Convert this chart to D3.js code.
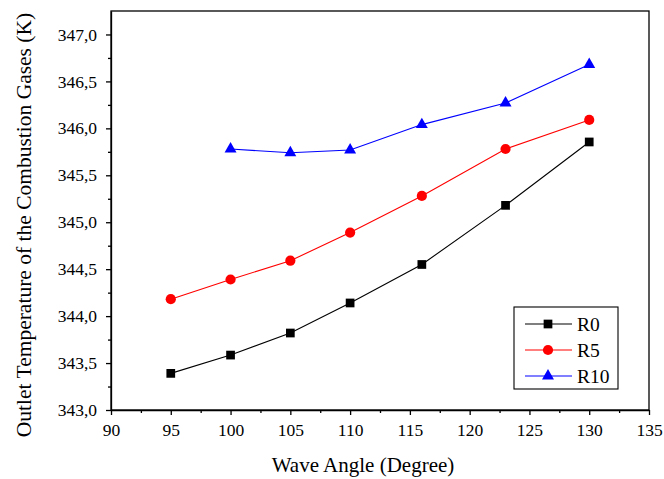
<!DOCTYPE html>
<html><head><meta charset="utf-8">
<script src="https://cdn.jsdelivr.net/npm/d3@7"></script>
<style>
body{margin:0;background:#fff;}
svg{display:block;}
svg text{font-family:"Liberation Serif","Times New Roman",serif !important;fill:#000;}
</style></head>
<body><svg id="c" width="664" height="479"></svg>
<script>
const angles = [95, 100, 105, 110, 116, 123, 130];
const r0 = [343.39, 343.585, 343.82, 344.14, 344.55, 345.18, 345.855];
const r5 = [344.18, 344.39, 344.59, 344.89, 345.28, 345.78, 346.09];
const r10 = [null, 345.78, 345.74, 345.77, 346.04, 346.27, 346.68];
const seriesNames = ["R0", "R5", "R10"];
const xTicks = [90, 95, 100, 105, 110, 115, 120, 125, 130, 135];
const yTicks = [343.0, 343.5, 344.0, 344.5, 345.0, 345.5, 346.0, 346.5, 347.0];

const svg = d3.select("#c");
const L = 111, R = 649, T = 11, B = 410;
const x = d3.scaleLinear().domain([90, 135]).range([L, R]);
const y = d3.scaleLinear().domain([343, 347.25]).range([B, T]);
const fmt = d => d3.format(".1f")(d).replace(".", ",");

// frame
svg.append("rect").attr("x", L).attr("y", T).attr("width", R - L).attr("height", B - T)
  .attr("fill", "none").attr("stroke", "#000").attr("stroke-width", 1.3);

// x axis
svg.append("g").attr("transform", `translate(0,${B})`)
  .call(d3.axisBottom(x).tickValues(xTicks).tickSize(5).tickSizeOuter(0).tickPadding(9));
svg.append("g").attr("transform", `translate(0,${B})`)
  .call(d3.axisBottom(x).tickValues(d3.range(92.5, 135, 5)).tickSize(3).tickFormat("").tickSizeOuter(0))
  .call(g => g.select(".domain").remove());
// y axis
svg.append("g").attr("transform", `translate(${L},0)`)
  .call(d3.axisLeft(y).tickValues(yTicks).tickFormat(fmt).tickSize(5).tickSizeOuter(0).tickPadding(9));
svg.append("g").attr("transform", `translate(${L},0)`)
  .call(d3.axisLeft(y).tickValues(d3.range(343.25, 347.25, 0.5)).tickSize(3).tickFormat("").tickSizeOuter(0))
  .call(g => g.select(".domain").remove());
svg.selectAll("g").attr("font-family", null).attr("font-size", null);
svg.selectAll(".tick text").attr("font-size", 17.5).attr("fill", "#000");
svg.selectAll(".tick line").attr("stroke", "#000").attr("stroke-width", 1.3);
svg.selectAll(".domain").attr("stroke", "#000").attr("stroke-width", 1.3);

// axis titles
svg.append("text").attr("x", 363).attr("y", 472).attr("text-anchor", "middle")
  .attr("font-size", 21).text("Wave Angle (Degree)");
svg.append("text").attr("transform", `translate(31,225) rotate(-90)`).attr("text-anchor", "middle")
  .attr("font-size", 21.5).text("Outlet Temperature of the Combustion Gases (K)");

const series = [
  {name: seriesNames[0], vals: r0, color: "#000000", sym: d3.symbolSquare, size: 76},
  {name: seriesNames[1], vals: r5, color: "#ff0000", sym: d3.symbolCircle, size: 82},
  {name: seriesNames[2], vals: r10, color: "#0000ff", sym: d3.symbolTriangle, size: 62}
];

const line = d3.line().defined(d => d[1] != null).x(d => x(d[0])).y(d => y(d[1]));
series.forEach(s => {
  const pts = angles.map((a, i) => [a, s.vals[i]]);
  svg.append("path").datum(pts).attr("d", line).attr("fill", "none")
    .attr("stroke", s.color).attr("stroke-width", 1.1);
  svg.selectAll(null).data(pts.filter(p => p[1] != null)).enter().append("path")
    .attr("d", d3.symbol().type(s.sym).size(s.size))
    .attr("transform", p => `translate(${x(p[0])},${y(p[1])})`)
    .attr("fill", s.color);
});

// legend
const lg = svg.append("g");
lg.append("rect").attr("x", 514).attr("y", 307).attr("width", 104).attr("height", 82)
  .attr("fill", "#fff").attr("stroke", "#000").attr("stroke-width", 1.1);
series.forEach((s, i) => {
  const ly = 324 + i * 26;
  lg.append("line").attr("x1", 525).attr("x2", 572).attr("y1", ly).attr("y2", ly)
    .attr("stroke", s.color).attr("stroke-width", 1.1);
  lg.append("path").attr("d", d3.symbol().type(s.sym).size(s.size))
    .attr("transform", `translate(548,${ly})`).attr("fill", s.color);
  lg.append("text").attr("x", 577).attr("y", ly + 6.5).attr("font-size", 19.5).text(s.name);
});
</script></body></html>
